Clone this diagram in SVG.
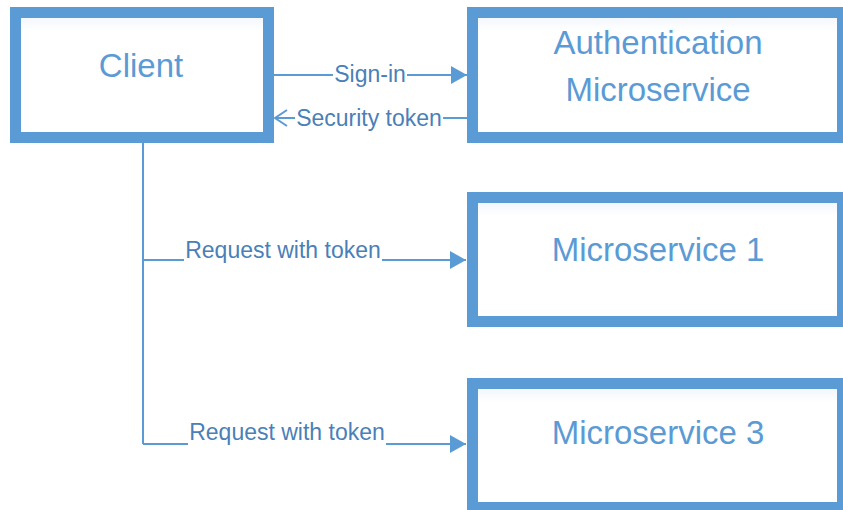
<svg xmlns="http://www.w3.org/2000/svg" width="843" height="510" viewBox="0 0 843 510">
  <style>
    .box { fill: #ffffff; stroke: #5b9bd5; stroke-width: 11; }
    .title { font-family: "Liberation Sans", Arial, sans-serif; font-size: 33px; fill: #5b9bd5; text-anchor: middle; }
    .conn { fill: none; stroke: #5b9bd5; stroke-width: 2; }
    .lbl { font-family: "Liberation Sans", Arial, sans-serif; font-size: 23px; fill: #4a7fb8; text-anchor: middle; }
  </style>
  <defs>
    <marker id="filled" markerWidth="16" markerHeight="18" refX="16" refY="9" orient="auto" markerUnits="userSpaceOnUse">
      <path d="M0,0 L16,9 L0,18 Z" fill="#5b9bd5"/>
    </marker>
    <marker id="open" markerWidth="16" markerHeight="20" refX="14" refY="10" orient="auto" markerUnits="userSpaceOnUse">
      <path d="M2,2 L14,10 L2,18" fill="none" stroke="#5b9bd5" stroke-width="2"/>
    </marker>
    <linearGradient id="inner" x1="0" y1="0" x2="0" y2="1">
      <stop offset="0" stop-color="#eef4fb"/>
      <stop offset="0.15" stop-color="#ffffff"/>
    </linearGradient>
  </defs>

  <g id="connectors">
    <path class="conn" d="M274,75 H333 M407,75 H467" marker-end="url(#filled)"/>
    <path class="conn" d="M467,118 H443 M295,118 H275" marker-end="url(#open)"/>
    <path class="conn" d="M143,143 V444"/>
    <path class="conn" d="M143,260 H184 M382,260 H466" marker-end="url(#filled)"/>
    <path class="conn" d="M143,444 H188 M386,444 H466" marker-end="url(#filled)"/>
    <text class="lbl" x="370" y="82">Sign-in</text>
    <text class="lbl" x="369" y="126">Security token</text>
    <text class="lbl" x="283" y="258">Request with token</text>
    <text class="lbl" x="287" y="440">Request with token</text>
  </g>

  <g id="client">
    <rect class="box" x="15.5" y="12.5" width="253" height="125" style="fill:url(#inner)"/>
    <text class="title" x="141" y="77">Client</text>
  </g>
  <g id="auth">
    <rect class="box" x="472.5" y="12.5" width="370" height="125" style="fill:url(#inner)"/>
    <text class="title" x="658" y="54">Authentication</text>
    <text class="title" x="658" y="101">Microservice</text>
  </g>
  <g id="ms1">
    <rect class="box" x="472.5" y="197.5" width="370" height="124" style="fill:url(#inner)"/>
    <text class="title" x="658" y="261">Microservice 1</text>
  </g>
  <g id="ms3">
    <rect class="box" x="472.5" y="383.5" width="370" height="124" style="fill:url(#inner)"/>
    <text class="title" x="658" y="444">Microservice 3</text>
  </g>
</svg>
